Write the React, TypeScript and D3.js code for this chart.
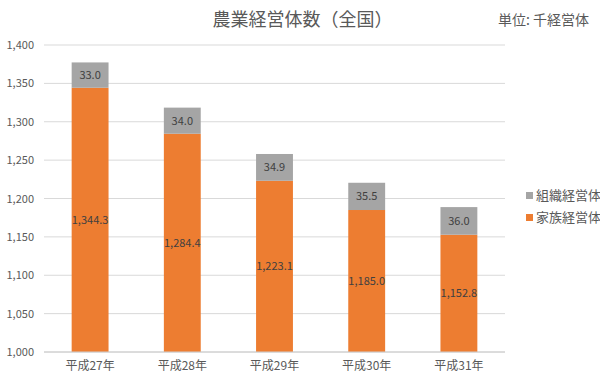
import React from "react";
import * as d3 from "d3";

const categories = ["平成27年", "平成28年", "平成29年", "平成30年", "平成31年"];
const familyValues = [1344.3, 1284.4, 1223.1, 1185.0, 1152.8];
const orgValues = [33.0, 34.0, 34.9, 35.5, 36.0];
const yTicks = [1000, 1050, 1100, 1150, 1200, 1250, 1300, 1350, 1400];
const seriesNames = ["組織経営体", "家族経営体"];
const colors = { family: "#ED7D31", org: "#A5A5A5" };

const W = 600, H = 380;
const left = 44, right = 505, top = 45, bottom = 352;
const FONT = "'Noto Sans CJK JP', 'Noto Sans', sans-serif";

export default function App() {
  const x = d3.scaleBand<string>().domain(categories).range([left, right]).paddingInner(0.6).paddingOuter(0.3);
  const y = d3.scaleLinear().domain([1000, 1400]).range([bottom, top]);
  const fmt = d3.format(",.1f");
  const fmtTick = d3.format(",");
  return (
    <div style={{ position: "absolute", left: 0, top: 0 }}>
      <svg width={W} height={H} style={{ display: "block", background: "#fff" }} fontFamily={FONT}>
        <text x={302.5} y={26} textAnchor="middle" fontSize={18} fill="#595959">農業経営体数（全国）</text>
        <text x={589} y={25} textAnchor="end" fontSize={14} fill="#595959">単位: 千経営体</text>
        {yTicks.map((t) => (
          <g key={t}>
            <line x1={left} x2={right} y1={y(t)} y2={y(t)} stroke={t === 1000 ? "#d0d0d0" : "#d9d9d9"} strokeWidth={1} />
            <text x={34} y={y(t) + 4} textAnchor="end" fontSize={11} fill="#595959">{fmtTick(t)}</text>
          </g>
        ))}
        {categories.map((c, i) => {
          const bx = x(c)!;
          const bw = x.bandwidth();
          const yf = y(familyValues[i]);
          const yt = y(familyValues[i] + orgValues[i]);
          return (
            <g key={c}>
              <rect x={bx} y={yf} width={bw} height={bottom - yf} fill={colors.family} />
              <rect x={bx} y={yt} width={bw} height={yf - yt} fill={colors.org} />
              <text x={bx + bw / 2} y={(yf + bottom) / 2 + 4} textAnchor="middle" fontSize={11} fill="#404040">{fmt(familyValues[i])}</text>
              <text x={bx + bw / 2} y={(yt + yf) / 2 + 4} textAnchor="middle" fontSize={11} fill="#404040">{fmt(orgValues[i])}</text>
              <text x={bx + bw / 2} y={370} textAnchor="middle" fontSize={12} fill="#595959">{c}</text>
            </g>
          );
        })}
        <line x1={left} x2={right} y1={bottom} y2={bottom} stroke="#d0d0d0" strokeWidth={1} />
        <rect x={526} y={192} width={7} height={7} fill={colors.org} />
        <text x={536} y={200} fontSize={13} fill="#595959">{seriesNames[0]}</text>
        <rect x={526} y={214} width={7} height={7} fill={colors.family} />
        <text x={536} y={222} fontSize={13} fill="#595959">{seriesNames[1]}</text>
      </svg>
    </div>
  );
}
